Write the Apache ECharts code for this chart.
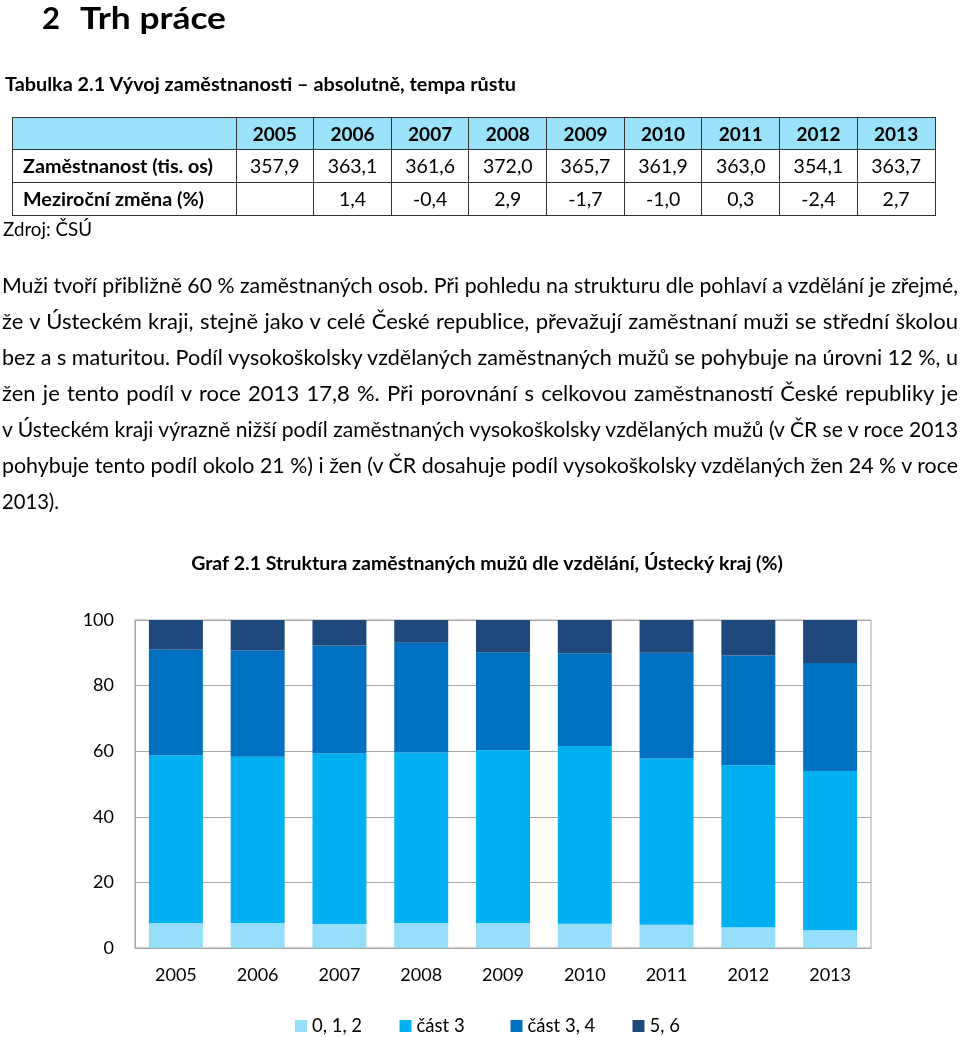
<!DOCTYPE html>
<html><head><meta charset="utf-8">
<script src="https://cdn.jsdelivr.net/npm/echarts@6/dist/echarts.min.js"></script>
<style>
html,body{margin:0;padding:0;background:#fff;}
body{width:960px;height:1037px;position:relative;overflow:hidden;font-family:Lato,'Open Sans',sans-serif;color:#000;}
#chart{position:absolute;left:0;top:0;width:960px;height:1037px;}
.t{position:absolute;white-space:nowrap;}
.t span,#tbl span{display:inline-block;white-space:nowrap;transform-origin:0 50%;}
#tbl{position:absolute;left:11.5px;top:117px;border-collapse:collapse;table-layout:fixed;width:924px;}
#tbl td{border:1px solid #333;padding:0;text-align:center;white-space:nowrap;overflow:visible;vertical-align:middle;}
#tbl tr.h td{background:#99E2FA;font-weight:700;font-size:19px;line-height:19px;}
#tbl tr.d td{font-size:19.5px;line-height:19.5px;}
#tbl td.lab{text-align:left;padding-left:10px;font-weight:700;font-size:19px;}
</style></head>
<body>
<div id="chart"></div>
<table id="tbl"></table>
<script>
// ---- data ----
const tableYears = ['2005','2006','2007','2008','2009','2010','2011','2012','2013'];
const employment = [357.9, 363.1, 361.6, 372.0, 365.7, 361.9, 363.0, 354.1, 363.7];
const yoyChange  = [null, 1.4, -0.4, 2.9, -1.7, -1.0, 0.3, -2.4, 2.7];

const categories = ['2005','2006','2007','2008','2009','2010','2011','2012','2013'];
const edu012   = [7.6, 7.6, 7.3, 7.6, 7.6, 7.4, 7.1, 6.3, 5.4];
const edu3     = [51.2, 50.7, 52.0, 52.0, 52.7, 54.2, 50.7, 49.4, 48.6];
const edu34    = [32.1, 32.4, 32.9, 33.5, 29.9, 28.3, 32.2, 33.5, 32.9];
const edu56    = [9.1, 9.3, 7.8, 6.9, 9.8, 10.1, 10.0, 10.8, 13.1];
const seriesNames = ['0, 1, 2', 'část 3', 'část 3, 4', '5, 6'];
const yTicks = [0, 20, 40, 60, 80, 100];

const paragraphLines = [
 'Muži tvoří přibližně 60\u00A0% zaměstnaných osob. Při pohledu na strukturu dle pohlaví a vzdělání je zřejmé,',
 'že v Ústeckém kraji, stejně jako v celé České republice, převažují zaměstnaní muži se střední školou',
 'bez a s maturitou. Podíl vysokoškolsky vzdělaných zaměstnaných mužů se pohybuje na úrovni 12 %, u',
 'žen je tento podíl v roce 2013 17,8 %. Při porovnání s celkovou zaměstnaností České republiky je',
 'v Ústeckém kraji výrazně nižší podíl zaměstnaných vysokoškolsky vzdělaných mužů (v ČR se v roce 2013',
 'pohybuje tento podíl okolo 21\u00A0%) i žen (v ČR dosahuje podíl vysokoškolsky vzdělaných žen 24\u00A0% v roce',
 '2013).'
];

// ---- helpers ----
function fit(s, target, justify){
  if(!target) return;
  const w = s.getBoundingClientRect().width;
  const spaces = (s.textContent.match(/[ \u00A0]/g)||[]).length;
  if(justify && w < target && spaces > 0){ s.style.wordSpacing = ((target-w)/spaces)+'px'; }
  else s.style.transform = 'scaleX('+(target/w)+')';
}
function addText(str, x, baseline, fs, weight, target, justify){
  const d = document.createElement('div'); d.className='t';
  d.style.left = x+'px'; d.style.top = (baseline-0.887*fs)+'px';
  d.style.font = weight+' '+fs+'px Lato'; d.style.lineHeight = fs+'px';
  const s = document.createElement('span'); s.textContent = str; d.appendChild(s);
  document.body.appendChild(d);
  fit(s, target, justify);
}
const fmt = v => v==null ? '' : v.toFixed(1).replace('.', ',');

// ---- headings ----
addText('2', 42, 29, 31, 700, 18);
addText('Trh práce', 80, 29, 31, 700, 146);
addText('Tabulka 2.1 Vývoj zaměstnanosti – absolutně, tempa růstu', 5, 91, 19.5, 700, 511);

// ---- table ----
const tbl = document.getElementById('tbl');
let html = '<colgroup><col style="width:224px">' + tableYears.map(()=>'<col>').join('') + '</colgroup>';
html += '<tr class="h" style="height:32px"><td></td>' + tableYears.map(y=>'<td><span>'+y+'</span></td>').join('') + '</tr>';
html += '<tr class="d" style="height:32.5px"><td class="lab"><span id="l1">Zaměstnanost (tis. os)</span></td>' + employment.map(v=>'<td><span>'+fmt(v)+'</span></td>').join('') + '</tr>';
html += '<tr class="d" style="height:33.5px"><td class="lab"><span id="l2">Meziroční změna (%)</span></td>' + yoyChange.map(v=>'<td><span>'+fmt(v)+'</span></td>').join('') + '</tr>';
tbl.innerHTML = html;
fit(document.getElementById('l1'), 190);
fit(document.getElementById('l2'), 181);

addText('Zdroj: ČSÚ', 2.5, 236, 19, 400, 89);

// ---- paragraph ----
paragraphLines.forEach((ln, i) => {
  const last = i === paragraphLines.length-1;
  addText(ln, 2, 293.5 + 36*i, 22, 400, last ? 57 : 956, !last);
});

// ---- chart ----
const colors = ['#95DFFA', '#00B0F0', '#0070C0', '#1F497D'];
const legendLeft = [295, 399.5, 510.5, 632.5];
const seriesData = [edu012, edu3, edu34, edu56];
const chart = echarts.init(document.getElementById('chart'), null, {renderer:'canvas'});
chart.setOption({
  animation: false,
  textStyle: {fontFamily: 'Lato'},
  title: {
    text: 'Graf 2.1 Struktura zaměstnaných mužů dle vzdělání, Ústecký kraj (%)',
    left: 482, top: 549, textAlign: 'center',
    textStyle: {fontSize: 19.5, fontWeight: 'bold', color: '#000', fontFamily: 'Lato'}
  },
  legend: seriesNames.map((n, i) => ({
    data: [n], left: legendLeft[i], top: 1016, padding: 0,
    icon: 'rect', itemWidth: 12, itemHeight: 12,
    textStyle: {fontSize: 18.5, color: '#000', fontFamily: 'Lato', lineHeight: 20}
  })),
  grid: {left: 135, right: 89, top: 620, bottom: 89, show: true, borderColor: '#A6A6A6', borderWidth: 1},
  xAxis: {
    type: 'category', data: categories,
    axisLine: {lineStyle: {color: '#A6A6A6'}}, axisTick: {show: false},
    axisLabel: {fontSize: 18, color: '#000', margin: 18}
  },
  yAxis: {
    type: 'value', min: yTicks[0], max: yTicks[yTicks.length-1], interval: 20,
    axisLine: {show: true, lineStyle: {color: '#A6A6A6'}}, axisTick: {show: false},
    axisLabel: {fontSize: 18, color: '#000', margin: 21},
    splitLine: {lineStyle: {color: '#A6A6A6'}}
  },
  series: seriesNames.map((n, i) => ({
    name: n, type: 'bar', stack: 'total', data: seriesData[i],
    barCategoryGap: '34%', itemStyle: {color: colors[i]}
  }))
});
</script>
</body></html>
